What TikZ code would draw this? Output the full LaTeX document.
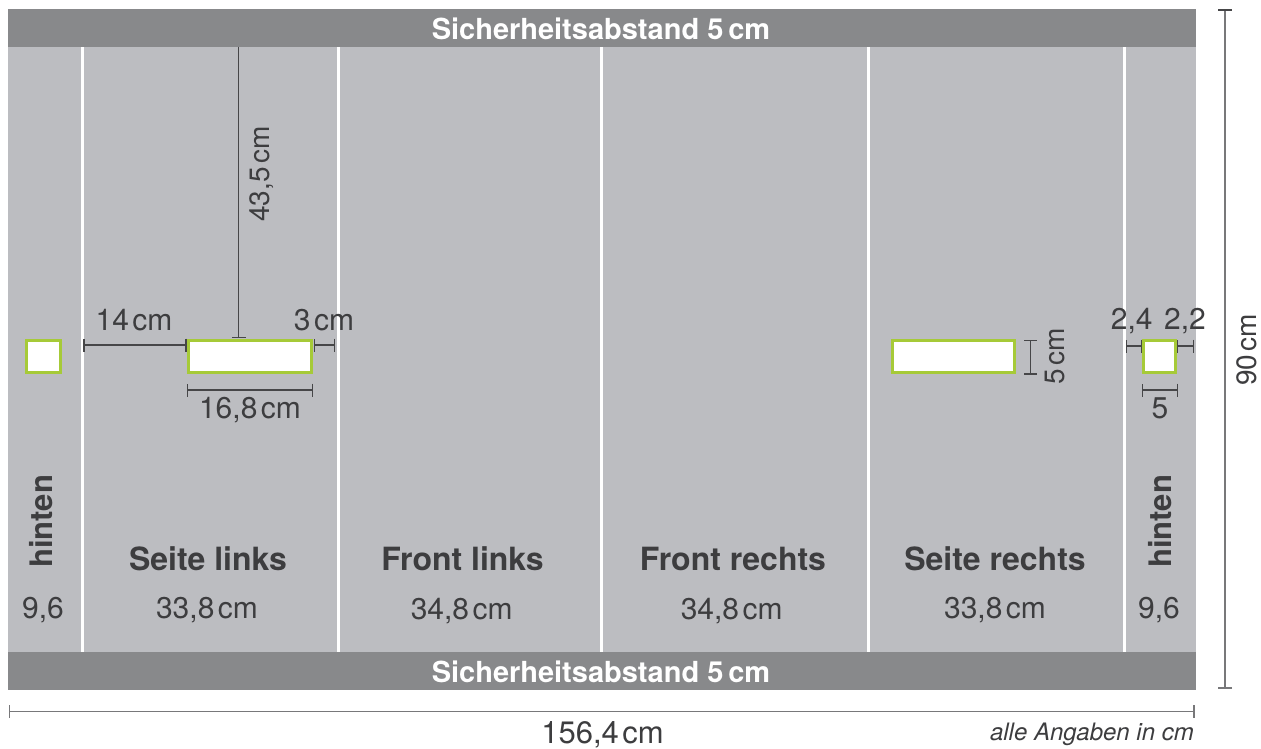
\documentclass[tikz,border=0pt]{standalone}
\usepackage{fontspec}
\setmainfont{TeX Gyre Heros}
\usetikzlibrary{arrows.meta}
\definecolor{bandgray}{RGB}{136,137,139}
\definecolor{panelgray}{RGB}{188,189,193}
\definecolor{txtgray}{RGB}{61,61,63}
\definecolor{limegreen}{RGB}{166,202,56}
\definecolor{dimgray}{RGB}{70,70,72}
\definecolor{outergray}{RGB}{120,120,122}
\newcommand{\cmgap}{\kern3.5pt}
\begin{document}
\begin{tikzpicture}[x=1pt,y=-1pt,
  bandtext/.style={anchor=base,text=white,font=\fontsize{29}{29}\selectfont\bfseries,inner sep=0pt},
  sectext/.style={anchor=base,text=txtgray,font=\fontsize{32}{32}\selectfont\bfseries,inner sep=0pt},
  hintext/.style={anchor=base,text=txtgray,font=\fontsize{31}{31}\selectfont\bfseries,inner sep=0pt,rotate=90},
  numtext/.style={anchor=base,text=txtgray,font=\fontsize{30}{30}\selectfont,inner sep=0pt},
  rottext/.style={anchor=base,text=txtgray,font=\fontsize{28}{28}\selectfont,inner sep=0pt,rotate=90},
  cutout/.style={draw=limegreen,fill=white,line width=3pt,inner sep=0pt},
  dimline/.style={draw=dimgray,line width=1.3pt,{Bar[width=13pt]}-{Bar[width=13pt]}},
  sepline/.style={draw=white,line width=3pt}]
\useasboundingbox (0,0) rectangle (1261,749);
% panel
\fill[panelgray] (8,47) rectangle (1196,652);
\fill[bandgray] (8,9) rectangle (1196,47);
\fill[bandgray] (8,652) rectangle (1196,690);
% separators
\foreach \sx in {82,338,601,868,1124}{\draw[sepline] (\sx,47) -- (\sx,652);}
% band labels
\node[bandtext] (topband) at (601,39.3) {Sicherheitsabstand 5\,cm};
\node[bandtext] (botband) at (601,682.3) {Sicherheitsabstand 5\,cm};
% cut-outs
\node[cutout,minimum width=33.7pt,minimum height=32.3pt] (sqL) at (43.3,356.7) {};
\node[cutout,minimum width=123pt,minimum height=32.3pt] (recL) at (249.7,356.7) {};
\node[cutout,minimum width=122pt,minimum height=32.3pt] (recR) at (953.5,356.7) {};
\node[cutout,minimum width=32pt,minimum height=32.3pt] (sqR) at (1159.5,356.7) {};
% dimension coordinates
\coordinate (a14) at (83.3,345);
\coordinate (b14) at (186.7,345);
\coordinate (a3) at (313.5,345);
\coordinate (b3) at (335,345);
\coordinate (a168) at (186.7,390);
\coordinate (b168) at (313,390);
\coordinate (a435) at (238.7,47);
\coordinate (b435) at (238.7,338);
\coordinate (a5v) at (1030.7,339.5);
\coordinate (b5v) at (1030.7,374.5);
\coordinate (a24) at (1125.7,346);
\coordinate (b24) at (1142,346);
\coordinate (a22) at (1177,346);
\coordinate (b22) at (1194,346);
\coordinate (a5h) at (1142,390);
\coordinate (b5h) at (1178,390);
\coordinate (aW) at (8.5,711.5);
\coordinate (bW) at (1194.7,711.5);
\coordinate (aH) at (1225,9.5);
\coordinate (bH) at (1225,689);
% dimension lines
\draw[dimline] (a14) -- (b14);
\draw[dimline] (a3) -- (b3);
\draw[dimline] (a168) -- (b168);
\draw[draw=dimgray,line width=1.3pt,-{Bar[width=14pt]}] (a435) -- (b435);
\draw[dimline] (a5v) -- (b5v);
\draw[dimline] (a24) -- (b24);
\draw[dimline] (a22) -- (b22);
\draw[dimline] (a5h) -- (b5h);
\draw[draw=outergray,line width=1.3pt,{Bar[width=13pt]}-{Bar[width=13pt]}] (aW) -- (bW);
\draw[draw=outergray,line width=1.6pt,{Bar[width=14pt,color=dimgray]}-{Bar[width=14pt]}] (aH) -- (bH);
% dimension labels
\node[numtext] (l14) at (134,330) {14\cmgap cm};
\node[numtext] (l3) at (324,330) {3\cmgap cm};
\node[numtext] (l168) at (250,418) {16,8\cmgap cm};
\node[rottext] (l435) at (269,174) {43,5\cmgap cm};
\node[rottext] (l5v) at (1064,356.5) {5\cmgap cm};
\node[numtext] (l24) at (1131.7,329) {2,4};
\node[numtext] (l22) at (1185,329) {2,2};
\node[numtext] (l5h) at (1160,418) {5};
\node[rottext] (l90) at (1256,350) {90\cmgap cm};
\node[numtext,font=\fontsize{31}{31}\selectfont] (lW) at (602.5,743) {156,4\cmgap cm};
\node[anchor=base east,text=txtgray,font=\fontsize{24}{24}\selectfont\itshape,inner sep=0pt] (note) at (1194,740) {alle Angaben in cm};
% section labels
\node[hintext] (hL) at (52,521.5) {hinten};
\node[sectext] (sL) at (208,570) {Seite links};
\node[sectext] (fL) at (462.5,570) {Front links};
\node[sectext] (fR) at (733,570) {Front rechts};
\node[sectext] (sR) at (995,570) {Seite rechts};
\node[hintext] (hR) at (1171.5,521.5) {hinten};
% section sizes
\node[numtext] (n1) at (43,618) {9,6};
\node[numtext] (n2) at (207,618) {33,8\cmgap cm};
\node[numtext] (n3) at (461.7,619) {34,8\cmgap cm};
\node[numtext] (n4) at (731.7,619) {34,8\cmgap cm};
\node[numtext] (n5) at (995,618) {33,8\cmgap cm};
\node[numtext] (n6) at (1159,618) {9,6};
\end{tikzpicture}
\end{document}
